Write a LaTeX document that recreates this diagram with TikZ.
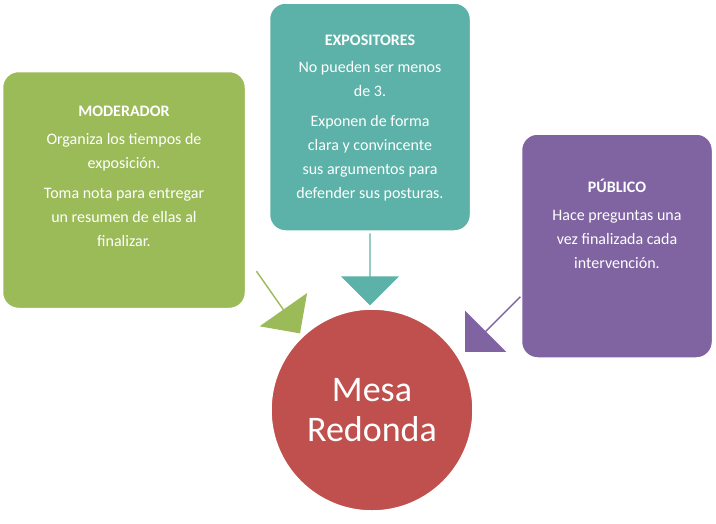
\documentclass[tikz,border=0pt]{standalone}
\usepackage{fontspec}
\setmainfont{Carlito}
\usetikzlibrary{shapes.arrows, positioning}
\definecolor{modcolor}{RGB}{155, 187, 89}
\definecolor{expcolor}{RGB}{92, 178, 168}
\definecolor{pubcolor}{RGB}{128, 100, 162}
\definecolor{mesacolor}{RGB}{192, 80, 77}
\tikzset{
    box/.style = {rectangle, rounded corners=16pt, draw=white, line width=1.5pt, inner sep=0pt},
    boxtext/.style = {anchor=north, text=white, align=center, font=\fontsize{16}{24}\selectfont, inner sep=0pt},
    blockarrow/.style = {single arrow, single arrow head extend=8pt, minimum width=58pt, inner sep=0pt}
}
\begin{document}
\begin{tikzpicture}[x=1pt, y=-1pt]
\useasboundingbox (0,0) rectangle (716,523);
% Boxes
\node[box, fill=modcolor, minimum width=243pt, minimum height=237pt] (mod) at (124,190) {};
\node[box, fill=expcolor, minimum width=201pt, minimum height=228pt] (exp) at (370,117) {};
\node[box, fill=pubcolor, minimum width=191pt, minimum height=224pt] (pub) at (617,246) {};
\node[circle, fill=mesacolor, draw=white, line width=1.5pt, minimum size=202pt, text=white,
  align=center, font=\fontsize{36}{40}\selectfont] (mesa) at (372,410) {Mesa\\Redonda};
% Texts
\node[boxtext, below=35pt of mod.north] (modtxt) {\textbf{MODERADOR}\\[4pt]
Organiza los tiempos de\\exposición.\\[6pt]
Toma nota para entregar\\un resumen de ellas al\\finalizar.};
\node[boxtext, below=33pt of exp.north] (exptxt) {\textbf{EXPOSITORES}\\[3pt]
No pueden ser menos\\de 3.\\[6pt]
Exponen de forma\\clara y convincente\\sus argumentos para\\defender sus posturas.};
\node[boxtext, below=46pt of pub.north] (pubtxt) {\textbf{PÚBLICO}\\[4pt]
Hace preguntas una\\vez finalizada cada\\intervención.};
% Arrows
\node[blockarrow, fill=modcolor, minimum height=76pt, rotate=-55] (modarrow) at (278,302) {};
\node[blockarrow, fill=expcolor, minimum height=72pt, rotate=-90] (exparrow) at (370,269) {};
\node[blockarrow, fill=pubcolor, minimum height=78pt, rotate=-135] (pubarrow) at (493,324) {};
\end{tikzpicture}
\end{document}
